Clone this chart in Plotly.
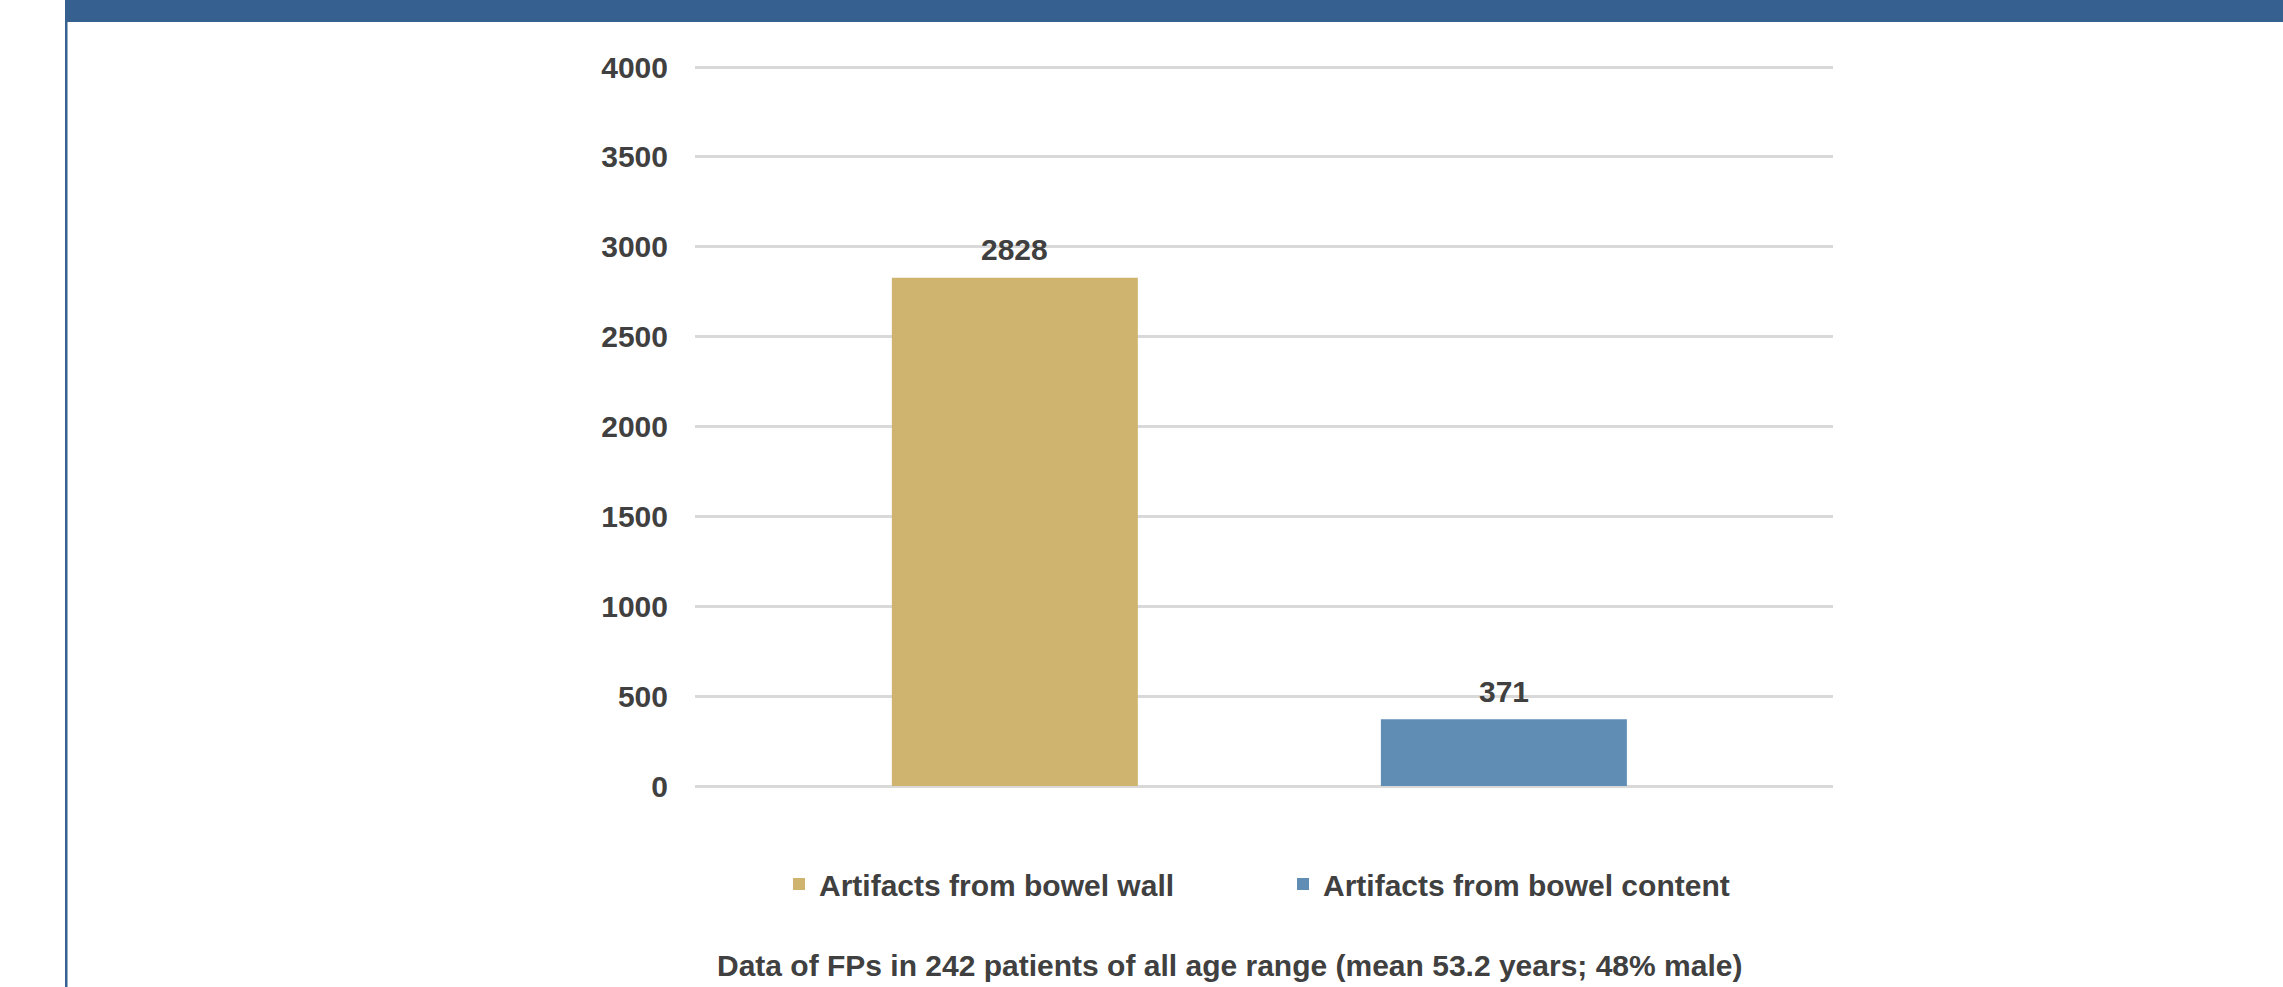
import plotly.graph_objects as go

categories = ["Artifacts from bowel wall", "Artifacts from bowel content"]
values = [2828, 371]
colors = ["#CFB46F", "#5F8DB4"]
positions = [0, 1]
caption = "Data of FPs in 242 patients of all age range (mean 53.2 years; 48% male)"
y_ticks = [0, 500, 1000, 1500, 2000, 2500, 3000, 3500, 4000]

W, H = 2283, 987
L, R, T, B = 695, 450, 66, 201
pw, ph = W - L - R, H - T - B

def px_x(p):
    return (p - L) / pw

def px_y(p):
    return (H - B - p) / ph

FONT = "Liberation Sans, Arial, sans-serif"
TXT = "#404040"

fig = go.Figure()
for cat, val, col, pos in zip(categories, values, colors, positions):
    fig.add_trace(go.Bar(x=[pos], y=[val], name=cat, marker=dict(color=col, line=dict(width=0)),
                         width=0.503, hoverinfo="y"))

annotations = []
for val, pos in zip(values, positions):
    annotations.append(dict(x=pos, y=val, xref="x", yref="y", text=f"<b>{val}</b>", showarrow=False,
                            yanchor="middle", yshift=28, font=dict(family=FONT, size=30, color=TXT)))
annotations.append(dict(x=px_x(1229), y=px_y(965), xref="paper", yref="paper", text=f"<b>{caption}</b>",
                        showarrow=False, xanchor="center", yanchor="middle",
                        font=dict(family=FONT, size=30, color=TXT)))

shapes = [
    dict(type="rect", xref="paper", yref="paper", x0=px_x(65), x1=px_x(W + 5), y0=px_y(22), y1=px_y(-5),
         fillcolor="#35608F", line=dict(width=0), layer="above"),
    dict(type="rect", xref="paper", yref="paper", x0=px_x(65), x1=px_x(67.5), y0=px_y(H + 5), y1=px_y(22),
         fillcolor="#35608F", line=dict(width=0), layer="above"),
]

fig.update_layout(
    width=W, height=H,
    margin=dict(l=L, r=R, t=T, b=B, pad=0),
    paper_bgcolor="white", plot_bgcolor="white",
    showlegend=True,
    legend=dict(orientation="h", x=px_x(779), y=px_y(884), xanchor="left", yanchor="middle",
                font=dict(family=FONT, size=30, color=TXT, weight="bold"),
                entrywidth=459, entrywidthmode="pixels", bgcolor="rgba(0,0,0,0)"),
    annotations=annotations,
    shapes=shapes,
    xaxis=dict(range=[-0.654, 1.673], showticklabels=False, showgrid=False, zeroline=False, showline=False,
               fixedrange=True),
    yaxis=dict(range=[0, 4006], tickvals=y_ticks, ticktext=[f"<b>{v}</b>" for v in y_ticks],
               showgrid=True, gridcolor="#D9D9D9", gridwidth=2.5,
               zeroline=True, zerolinecolor="#D9D9D9", zerolinewidth=2.5, showline=False,
               ticks="", ticklabelstandoff=26,
               tickfont=dict(family=FONT, size=30, color=TXT)),
    font=dict(family=FONT, color=TXT),
)

fig.write_html("out.html")
